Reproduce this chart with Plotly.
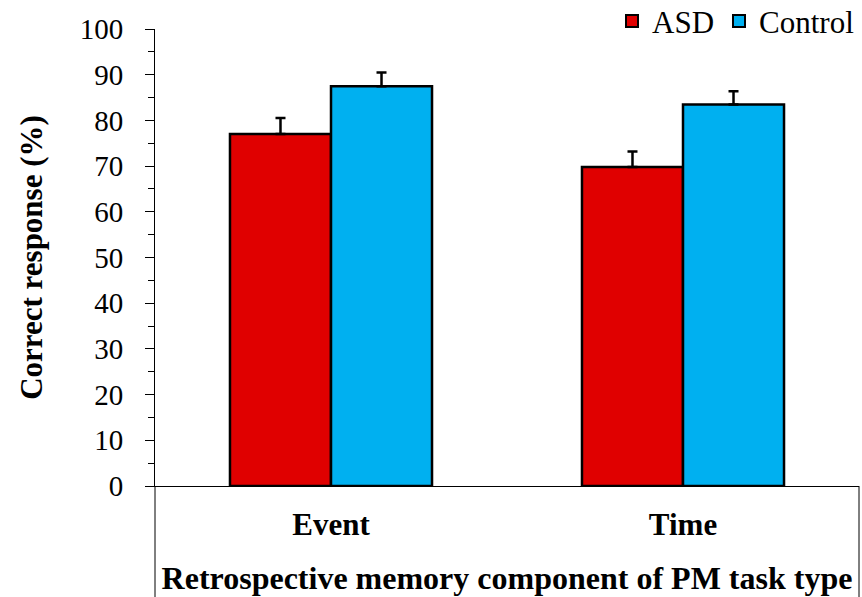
import plotly.graph_objects as go

categories = ["Event", "Time"]
asd_values = [77.0, 69.8]
asd_errors = [3.5, 3.4]
control_values = [87.5, 83.5]
control_errors = [3.0, 2.9]
y_ticks = list(range(0, 101, 10))

FONT = "Times New Roman"

fig = go.Figure()
fig.add_trace(go.Bar(
    name="ASD", x=categories, y=asd_values,
    marker=dict(color="#E00000", line=dict(color="black", width=2.5)),
    error_y=dict(type="data", array=asd_errors, arrayminus=[0] * len(asd_errors),
                 symmetric=False, color="black", thickness=2.5, width=5),
))
fig.add_trace(go.Bar(
    name="Control", x=categories, y=control_values,
    marker=dict(color="#00B0F0", line=dict(color="black", width=2.5)),
    error_y=dict(type="data", array=control_errors, arrayminus=[0] * len(control_errors),
                 symmetric=False, color="black", thickness=2.5, width=5),
))

fig.update_layout(
    width=862, height=597,
    margin=dict(l=155, r=3, t=29, b=111, autoexpand=False),
    plot_bgcolor="white", paper_bgcolor="white",
    barmode="group", bargap=0.426, bargroupgap=0,
    font=dict(family=FONT, color="black"),
    showlegend=True,
    legend=dict(orientation="h", x=1.0, xanchor="right", y=1.017, yanchor="middle",
                font=dict(size=31, family=FONT), bgcolor="rgba(0,0,0,0)",
                traceorder="normal", itemsizing="constant"),
    xaxis=dict(
        showline=True, linecolor="black", linewidth=1, ticks="",
        tickfont=dict(size=31, family=FONT, weight="bold"),
        ticklabelstandoff=11,
        title=dict(text="Retrospective memory component of PM task type",
                   font=dict(size=32, family=FONT, weight="bold"), standoff=25),
    ),
    yaxis=dict(
        range=[0, 100], tickvals=y_ticks, showgrid=False, zeroline=False,
        showline=True, linecolor="black", linewidth=1,
        ticks="outside", ticklen=9, tickcolor="black", tickwidth=1,
        minor=dict(dtick=5, ticks="outside", ticklen=6, tickcolor="black", tickwidth=1, showgrid=False),
        tickfont=dict(size=29, family=FONT),
        ticklabelstandoff=16,
        title=dict(text="Correct response (%)",
                   font=dict(size=31, family=FONT, weight="bold"), standoff=27),
    ),
)

# box lines below the category axis
fig.add_shape(type="line", xref="paper", yref="paper", x0=0, x1=0, y0=0, y1=-0.5,
              line=dict(color="black", width=1))
fig.add_shape(type="line", xref="paper", yref="paper", x0=1, x1=1, y0=0, y1=-0.5,
              line=dict(color="black", width=1))

fig.write_html("out.html", config={"displayModeBar": False},
               post_script="document.body.style.margin='0';document.body.style.padding='0';")
